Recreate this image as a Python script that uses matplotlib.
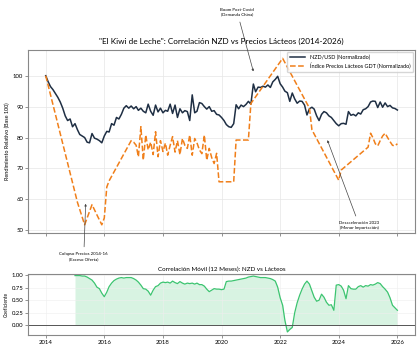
import matplotlib
matplotlib.use("Agg")
import matplotlib.pyplot as plt
import matplotlib.dates as mdates
import pandas as pd

plt.rcParams["font.family"] = ["Lato", "DejaVu Sans"]

# NZD/USD normalizado (mensual, ene-2014 .. ene-2026)
nzd_values = [
    100, 98, 96.5, 95.5, 94.3, 93, 91.5, 89.5, 87, 85.5, 86, 83.5,
    84.5, 82.5, 81, 80.5, 80, 78.5, 78.3, 81.3, 79.8, 79.5, 79, 78.3,
    80.5, 82, 81.8, 84.5, 84, 86.5, 86, 87.5, 89.5, 90.3, 89.5, 90.2,
    89.3, 90, 88.8, 89.5, 88.5, 88, 90.8, 88.5, 87.2, 90.5, 88.3, 89.5,
    88, 88.8, 88.5, 90.8, 87.8, 90.5, 86.5, 89.3, 88, 88.7, 88.4, 85.5,
    93.8, 88, 88.5, 91.3, 91, 90, 89.2, 90, 88.5, 88.7, 87.5, 87.3,
    86.5, 85.5, 84.2, 83.5, 83.3, 84.5, 90.6, 89.3, 90.5, 90, 90.7, 91.7,
    90.8, 97.3, 94.8, 96.3, 96.2, 96.6, 96.3, 97, 96.2, 98, 98.8, 99.8,
    97.4, 96.3, 95, 94.5, 91.7, 94.4, 92.5, 91.1, 91.8, 91.7, 90.5, 87.3,
    89.3, 89.8, 89.2, 87, 85.5, 87.5, 88.4, 88, 87, 86.5, 85.5, 84.5,
    83.8, 84.5, 84.6, 84.3, 88.4, 87.2, 87.5, 87, 88, 87.6, 89, 89.3,
    90, 91.5, 91.8, 91.7, 89.7, 91.5, 89.8, 91.2, 90, 90.4, 89.6, 89.4,
    88.9,
]
nzd_dates = pd.date_range("2014-01-01", periods=len(nzd_values), freq="MS")

# Indice GDT normalizado (observaciones disponibles)
gdt_dates = [
    "2014-01", "2015-02", "2015-05", "2015-08", "2015-10", "2015-12",
    "2016-01", "2016-02", "2016-03", "2016-12", "2017-01", "2017-02",
    "2017-03", "2017-04", "2017-05", "2017-06", "2017-07", "2017-08",
    "2017-09", "2017-10", "2017-11", "2017-12",
    "2018-01", "2018-02", "2018-03", "2018-04", "2018-05", "2018-06",
    "2018-07", "2018-08", "2018-09", "2018-10", "2018-11", "2018-12",
    "2019-01", "2019-02", "2019-03", "2019-04", "2019-05", "2019-06",
    "2019-07", "2019-08", "2019-09", "2019-10", "2019-11", "2019-12",
    "2020-01", "2020-06", "2020-07", "2020-12", "2021-01", "2022-02",
    "2023-01", "2023-02", "2024-01", "2024-02", "2025-01", "2025-02",
    "2025-03", "2025-04", "2025-05", "2025-06", "2025-07", "2025-08",
    "2025-09", "2025-10", "2025-11", "2025-12", "2026-01",
]
gdt_values = [
    100, 59, 51.8, 58.3, 55, 51.8,
    54, 64, 66, 79, 78.5, 77.5,
    73.8, 83.5, 72.7, 80.8, 76, 78.5,
    74.5, 81.9, 73.8, 79,
    75.5, 78.2, 74.3, 77.5, 80.3, 75.3,
    79, 74.5, 79.7, 77.5, 76.5, 80.8,
    74.3, 79.7, 78.3, 76, 74.8, 80.8,
    72.7, 76.5, 73.5, 71.6, 74.9, 65.7,
    65.7, 65.7, 79.2, 79.2, 91, 105.6,
    89.5, 82.5, 66.2, 69.5, 76.9, 81.4,
    80, 78, 77.3, 79, 80.5, 81.4,
    80, 78.7, 77.5, 77.3, 78,
]
gdt_dates = pd.to_datetime(gdt_dates)

# Correlacion movil 12 meses (mensual, ene-2015 .. ene-2026)
corr_values = [
    0.99, 0.99, 0.99, 0.98, 0.98, 0.96, 0.93, 0.90, 0.84, 0.76, 0.73, 0.64,
    0.57, 0.66, 0.77, 0.84, 0.89, 0.92, 0.94, 0.95, 0.94, 0.95, 0.95, 0.95,
    0.93, 0.90, 0.86, 0.80, 0.73, 0.72, 0.68, 0.60, 0.70, 0.77, 0.79, 0.84,
    0.86, 0.85, 0.86, 0.84, 0.88, 0.85, 0.83, 0.87, 0.84, 0.82, 0.84, 0.83,
    0.84, 0.82, 0.84, 0.81, 0.81, 0.78, 0.72, 0.67, 0.70, 0.73, 0.72, 0.72,
    0.71, 0.72, 0.87, 0.88, 0.88, 0.89, 0.90, 0.91, 0.92, 0.93, 0.94, 0.96,
    0.97, 0.98, 0.97, 0.96, 0.95, 0.95, 0.95, 0.94, 0.93, 0.91, 0.88, 0.76,
    0.55, 0.40, 0.10, -0.13, -0.08, -0.04, 0.25, 0.45, 0.60, 0.72, 0.82, 0.88,
    0.82, 0.68, 0.56, 0.48, 0.50, 0.62, 0.56, 0.46, 0.40, 0.41, 0.30, 0.80,
    0.81, 0.78, 0.70, 0.53, 0.79, 0.73, 0.72, 0.72, 0.77, 0.79, 0.76, 0.79,
    0.78, 0.81, 0.80, 0.82, 0.85, 0.83, 0.77, 0.72, 0.66, 0.55, 0.40, 0.35,
    0.30,
]
corr_dates = pd.date_range("2015-01-01", periods=len(corr_values), freq="MS")

fig = plt.figure(figsize=(4.2, 3.5), dpi=100)
ax = fig.add_axes([0.067, 0.334, 0.921, 0.523])
ax2 = fig.add_axes([0.067, 0.043, 0.921, 0.174], sharex=ax)

ax.plot(nzd_dates, nzd_values, color="#1f2f44", lw=1.1, label="NZD/USD (Normalizado)")
ax.plot(gdt_dates, gdt_values, color="#f07f1a", lw=1.1, ls="--",
        label="Índice Precios Lácteos GDT (Normalizado)")

ax.set_title('"El Kiwi de Leche": Correlación NZD vs Precios Lácteos (2014-2026)',
             fontsize=5.9, pad=4.5)
ax.set_ylabel("Rendimiento Relativo (Base 100)", fontsize=4, labelpad=2)
ax.legend(loc="upper right", fontsize=4, frameon=True, edgecolor="#cccccc",
          handlelength=2.8, borderpad=0.5, borderaxespad=0.3)
ax.grid(True, color="#e6e6e6", lw=0.5)
ax.set_yticks([50, 60, 70, 80, 90, 100])

arrow = dict(arrowstyle="-|>", color="#444444", lw=0.5, mutation_scale=3)
ax.annotate("Boom Post-Covid\n(Demanda China)", xy=(pd.Timestamp("2021-02-10"), 100.5),
            xytext=(pd.Timestamp("2020-07-15"), 120.5), fontsize=3.2, ha="center",
            va="center", arrowprops=arrow, annotation_clip=False)
ax.annotate("Colapso Precios 2014-16\n(Exceso Oferta)", xy=(pd.Timestamp("2015-05-15"), 59.5),
            xytext=(pd.Timestamp("2015-04-20"), 41.5), fontsize=3.2, ha="center",
            va="center", arrowprops=arrow, annotation_clip=False)
ax.annotate("Desaceleración 2023\n(Menor Importación)", xy=(pd.Timestamp("2023-08-01"), 80),
            xytext=(pd.Timestamp("2024-09-15"), 51.5), fontsize=3.2, ha="center",
            va="center", arrowprops=arrow, annotation_clip=False)

ax2.plot(corr_dates, corr_values, color="#3cc470", lw=0.9)
ax2.fill_between(corr_dates, corr_values, 0, color="#3cc470", alpha=0.2, lw=0)
ax2.axhline(0, color="#555555", lw=0.7)
ax2.set_ylim(-0.19, 1.02)
ax2.set_yticks([0, 0.25, 0.5, 0.75, 1.0])
ax2.set_title("Correlación Móvil (12 Meses): NZD vs Lácteos", fontsize=4.5, pad=2)
ax2.set_ylabel("Coeficiente", fontsize=3.5, labelpad=2)
ax2.grid(True, color="#eeeeee", lw=0.4)

ax2.xaxis.set_major_locator(mdates.YearLocator(2))
ax2.xaxis.set_major_formatter(mdates.DateFormatter("%Y"))
plt.setp(ax.get_xticklabels(), visible=False)

for a in (ax, ax2):
    a.tick_params(labelsize=4.3, length=2, width=0.5, pad=1.5, color="#666666")
    for s in a.spines.values():
        s.set_color("#888888")
        s.set_linewidth(0.8)

fig.savefig("out.png", dpi=100)
